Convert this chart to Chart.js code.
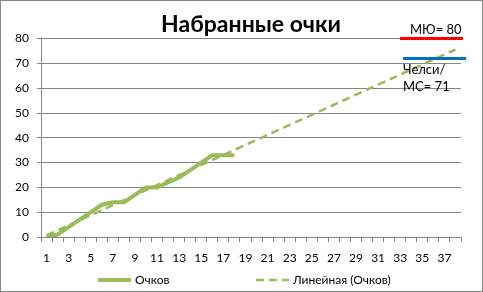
<!DOCTYPE html>
<html>
<head>
<meta charset="utf-8">
<script src="https://cdn.jsdelivr.net/npm/chart.js@4.4.1/dist/chart.umd.min.js"></script>
<style>
  html, body { margin: 0; padding: 0; background: #fff; }
  #wrap { width: 483px; height: 292px; }
</style>
</head>
<body>
<div id="wrap"><canvas id="pointsChart" width="483" height="292"></canvas></div>
<script>
// Rounds 1..38 on the x axis
const rounds = [];
for (let r = 1; r <= 38; r++) rounds.push(String(r));

// Points collected after each played round
const points = [0, 1, 4, 7, 10, 13, 14, 14, 17, 20, 20, 22, 24, 27, 30, 33, 33, 33];

// Y axis range
const yTicks = [0, 10, 20, 30, 40, 50, 60, 70, 80];

// Reference marks drawn on the right side
const refLabels = [['МЮ= 80'], ['Челси/', 'МС= 71']];
const refLevels = [80, 72];
const refColors = ['#ff0000', '#0070c0'];

const FONT = 'Lato, "Open Sans", sans-serif';
const GRID = '#868686';
const GREEN = '#9bbb59';

// Linear trend (least squares) of the points, carried to the last round
function linearTrend(values, length) {
    const n = values.length;
    let sx = 0, sy = 0, sxy = 0, sxx = 0;
    values.forEach((v, i) => {
        const x = i + 1;
        sx += x; sy += v; sxy += x * v; sxx += x * x;
    });
    const slope = (n * sxy - sx * sy) / (n * sxx - sx * sx);
    const icpt = (sy - slope * sx) / n;
    const out = [];
    for (let x = 1; x <= length; x++) out.push(icpt + slope * x);
    return out;
}
const trend = linearTrend(points, rounds.length);

// White background and thin frame round the whole chart
const framePlugin = {
    id: 'frame',
    beforeDraw(chart) {
        const c = chart.ctx;
        c.save();
        c.fillStyle = '#fff';
        c.fillRect(0, 0, chart.width, chart.height);
        c.strokeStyle = GRID;
        c.lineWidth = 1;
        c.strokeRect(0.5, 0.5, chart.width - 1, chart.height - 1);
        c.restore();
    }
};

// Red / blue reference bars with their captions
const refPlugin = {
    id: 'refMarks',
    afterDatasetsDraw(chart) {
        const c = chart.ctx;
        const y = chart.scales.y;
        const right = chart.chartArea.right;
        c.save();
        c.font = '13px ' + FONT;
        c.textBaseline = 'middle';
        c.fillStyle = '#000';
        refLevels.forEach((lvl, i) => {
            const py = y.getPixelForValue(lvl);
            const x0 = right - 61 + i * 3;
            c.strokeStyle = refColors[i];
            c.lineWidth = 3;
            c.beginPath();
            c.moveTo(x0, py);
            c.lineTo(x0 + 63, py);
            c.stroke();
            const lines = refLabels[i];
            lines.forEach((t, k) => {
                if (i === 0) {
                    c.fillText(t, x0 + 10, py - 9);
                } else {
                    c.fillText(t, x0, py + 11 + k * 17);
                }
            });
        });
        c.restore();
    }
};

// Legend drawn at the bottom with Excel-like spacing
const legendPlugin = {
    id: 'bottomLegend',
    afterDraw(chart) {
        const c = chart.ctx;
        const ds = chart.data.datasets;
        const y = 280;
        const starts = [98, 256];
        c.save();
        c.font = '12px ' + FONT;
        c.textBaseline = 'middle';
        c.fillStyle = '#000';
        ds.forEach((d, i) => {
            const x = starts[i];
            c.strokeStyle = d.borderColor;
            c.lineWidth = d.borderWidth;
            c.setLineDash(d.borderDash || []);
            c.beginPath();
            c.moveTo(x, y);
            c.lineTo(x + 33, y);
            c.stroke();
            c.setLineDash([]);
            c.fillText(d.label, x + 37, y);
        });
        c.restore();
    }
};

function initPointsChart() {
    const ctx = document.getElementById('pointsChart');
    if (!ctx) {
        console.error('Canvas element not found!');
        return null;
    }
    return new Chart(ctx, {
        type: 'line',
        data: {
            labels: rounds,
            datasets: [{
                label: 'Очков',
                data: points,
                borderColor: GREEN,
                borderWidth: 4,
                pointRadius: 0,
                tension: 0,
                borderJoinStyle: 'round'
            }, {
                label: 'Линейная (Очков)',
                data: trend,
                borderColor: GREEN,
                borderWidth: 2.5,
                borderDash: [8, 5],
                pointRadius: 0,
                tension: 0
            }]
        },
        options: {
            responsive: false,
            animation: false,
            layout: { padding: { left: 0, right: 22, top: 0, bottom: 24 } },
            plugins: {
                legend: { display: false },
                tooltip: { enabled: false },
                title: {
                    display: true,
                    fullSize: false,
                    text: 'Набранные очки',
                    color: '#000',
                    font: { family: FONT, size: 23, weight: 'bold' },
                    padding: { top: 11, bottom: 0 }
                }
            },
            scales: {
                x: {
                    offset: true,
                    grid: {
                        offset: true,
                        drawOnChartArea: false,
                        drawTicks: true,
                        tickLength: 5,
                        color: GRID
                    },
                    border: { color: GRID },
                    ticks: {
                        autoSkip: false,
                        maxRotation: 0,
                        padding: 9,
                        color: '#000',
                        font: { family: FONT, size: 12 },
                        callback: function (val, i) {
                            return i % 2 === 0 ? this.getLabelForValue(val) : '';
                        }
                    },
                    afterFit(scale) { scale.height = 31; }
                },
                y: {
                    min: yTicks[0],
                    max: yTicks[yTicks.length - 1],
                    afterBuildTicks(scale) {
                        scale.ticks = yTicks.map(v => ({ value: v }));
                    },
                    grid: { color: GRID, tickLength: 4 },
                    border: { color: GRID },
                    ticks: {
                        padding: 8,
                        color: '#000',
                        font: { family: FONT, size: 12 }
                    },
                    afterFit(scale) { scale.width = 41; }
                }
            }
        },
        plugins: [framePlugin, refPlugin, legendPlugin]
    });
}

document.addEventListener('DOMContentLoaded', function () {
    try {
        initPointsChart();
    } catch (error) {
        console.error('Error initializing chart:', error);
    }
});
</script>
</body>
</html>
